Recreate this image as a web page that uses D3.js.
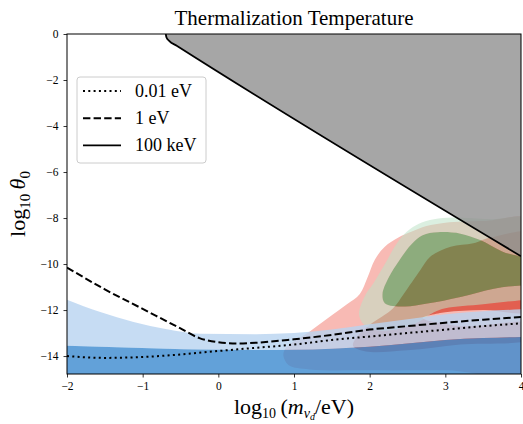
<!DOCTYPE html>
<html>
<head>
    <title>Thermalization Temperature</title>
    <script src="https://cdnjs.cloudflare.com/ajax/libs/d3/7.8.5/d3.min.js"></script>
    <style>
        body {
            margin: 0;
            background-color: white;
        }
        svg text {
            font-family: "Liberation Serif", "DejaVu Serif", serif;
        }
    </style>
</head>
<body>
    <div id="chart"></div>

    <script>
        // Axis ticks
        const xTicks = [-2, -1, 0, 1, 2, 3, 4];
        const yTicks = [0, -2, -4, -6, -8, -10, -12, -14];

        // Thermalization lines (log10 m, log10 theta)
        const line001eV = [[-2, -14.0], [-1.5, -14.08], [-1, -14.04], [-0.5, -13.93], [0, -13.78], [0.5, -13.64],
            [1, -13.5], [1.5, -13.3], [2, -13.15], [2.5, -13.0], [3, -12.85], [3.5, -12.7], [4, -12.58]];
        const line1eV = [[-2, -10.15], [-1.5, -11.1], [-1, -11.95], [-0.5, -12.8], [-0.25, -13.22], [0, -13.4],
            [0.25, -13.45], [0.5, -13.42], [1, -13.27], [1.5, -13.08], [2, -12.85], [2.5, -12.7], [3, -12.55],
            [3.5, -12.42], [4, -12.3]];
        const line100keV = [[-0.695, 0], [-0.685, -0.15], [-0.65, -0.3], [-0.55, -0.51], [4, -9.66]];

        // Blue bounds: shared x grid, outer (light) and inner (dark) upper edges
        const blueX = [-2, -1.56, -1.12, -0.68, -0.24, 0.5, 1, 1.5, 2, 2.5, 3, 3.5, 4];
        const blueOuterTop = [-11.55, -12.09, -12.52, -12.84, -13.03, -13.05, -13.0, -12.85, -12.62, -12.4, -12.18, -12.05, -11.97];
        const blueInnerTop = [-13.55, -13.6, -13.64, -13.68, -13.72, -13.74, -13.73, -13.68, -13.6, -13.45, -13.3, -13.22, -13.17];

        // Red contours (outer, inner)
        const redOuter = [[0.86, -14.0], [0.93, -14.4], [1.2, -14.58], [2, -14.62], [3, -14.62], [4.2, -14.62],
            [4.2, -8.15], [3.5, -8.13], [3.0, -8.2], [2.75, -8.35], [2.55, -8.6], [2.38, -8.85], [2.2, -9.25],
            [2.07, -9.8], [1.97, -10.6], [1.87, -11.3], [1.7, -11.75], [1.45, -12.35], [1.2, -12.95],
            [0.98, -13.4], [0.88, -13.7]];
        const redInner = [[2.31, -11.92], [2.45, -11.3], [2.67, -10.26], [2.8, -9.68], [3.07, -9.25], [3.37, -9.1],
            [3.6, -8.85], [4.2, -8.7], [4.2, -11.96], [3.5, -12.0], [3.0, -12.1], [2.7, -12.35], [3.2, -12.7],
            [4.2, -12.6], [4.2, -13.2], [3.2, -13.5], [2.5, -13.75], [1.95, -13.8], [1.78, -13.55],
            [1.85, -13.1], [2.0, -12.65]];

        // Green contours (outer, inner)
        const greenOuter = [[1.86, -12.2], [1.95, -11.3], [2.05, -10.83], [2.23, -9.83], [2.36, -9.1], [2.49, -8.6],
            [2.65, -8.25], [2.85, -8.05], [3.1, -7.98], [3.6, -8.05], [4.2, -8.1], [4.2, -11.5], [4, -11.57],
            [3.5, -11.75], [3.0, -11.92], [2.85, -12.1], [2.6, -12.6], [2.2, -12.9], [1.95, -12.7]];
        const greenInner = [[2.2, -11.7], [2.17, -11.3], [2.25, -10.6], [2.4, -9.8], [2.55, -9.15], [2.7, -8.75],
            [2.9, -8.62], [3.2, -8.68], [3.46, -8.96], [3.75, -9.45], [4.2, -10.0], [4.2, -10.95], [4, -10.93],
            [3.64, -11.07], [3.2, -11.43], [2.76, -11.72], [2.45, -11.85]];

        const legendLabels = ['0.01 eV', '1 eV', '100 keV'];
        const legendDash = ['2,3.3', '7.4,3.2', null];

        const margin = {top: 34, right: 2, bottom: 50, left: 67};
        const width = 523 - margin.left - margin.right;
        const height = 424 - margin.top - margin.bottom;

        const root = d3.select('#chart')
            .append('svg')
                .attr('width', 523)
                .attr('height', 424);

        const svg = root.append('g')
            .attr('transform', `translate(${margin.left},${margin.top})`);

        const x = d3.scaleLinear().domain([-2, 4]).range([0, width]);
        const y = d3.scaleLinear().domain([-14.78, 0]).range([height, 0]);

        svg.append('clipPath').attr('id', 'plotClip')
            .append('rect').attr('width', width).attr('height', height);

        const plot = svg.append('g').attr('clip-path', 'url(#plotClip)');

        const blob = d3.line()
            .x(d => x(d[0]))
            .y(d => y(d[1]))
            .curve(d3.curveCatmullRomClosed.alpha(0.5));

        // Red contours
        plot.append('path').attr('d', blob(redOuter)).attr('fill', 'rgb(248,186,180)');
        plot.append('path').attr('d', blob(redInner)).attr('fill', 'rgb(226,95,80)');

        // Green contours (outer band excludes inner)
        plot.append('path')
            .attr('d', blob(greenOuter) + blob(greenInner))
            .attr('fill-rule', 'evenodd')
            .attr('fill', 'rgb(190,226,198)')
            .attr('fill-opacity', 0.55);
        plot.append('path')
            .attr('d', blob(greenInner))
            .attr('fill', 'rgb(52,160,80)')
            .attr('fill-opacity', 0.55);

        // Blue bounds
        const blueBand = d3.area()
            .x(d => x(d.x))
            .y0(d => y(d.lo))
            .y1(d => y(d.hi))
            .curve(d3.curveMonotoneX);

        const blueOuter = blueX.map((v, i) => ({x: v, lo: blueInnerTop[i], hi: blueOuterTop[i]}));
        const blueInner = blueX.map((v, i) => ({x: v, lo: -14.78, hi: blueInnerTop[i]}));

        plot.append('path').attr('d', blueBand(blueOuter))
            .attr('fill', 'rgb(184,211,240)').attr('fill-opacity', 0.8);
        plot.append('path').attr('d', blueBand(blueInner))
            .attr('fill', 'rgb(59,138,208)').attr('fill-opacity', 0.8);

        // Gray excluded region above 100 keV line
        const grayArea = d3.area()
            .x(d => x(d[0]))
            .y0(y(0))
            .y1(d => y(d[1]))
            .curve(d3.curveMonotoneX);

        plot.append('path').attr('d', grayArea(line100keV))
            .attr('fill', 'rgb(139,139,139)').attr('fill-opacity', 0.77);

        const curve = d3.line()
            .x(d => x(d[0]))
            .y(d => y(d[1]))
            .curve(d3.curveMonotoneX);

        plot.append('path').datum(line100keV)
            .attr('d', curve).attr('fill', 'none')
            .attr('stroke', 'black').attr('stroke-width', 1.8);
        plot.append('path').datum(line1eV)
            .attr('d', curve).attr('fill', 'none')
            .attr('stroke', 'black').attr('stroke-width', 2)
            .attr('stroke-dasharray', legendDash[1]);
        plot.append('path').datum(line001eV)
            .attr('d', curve).attr('fill', 'none')
            .attr('stroke', 'black').attr('stroke-width', 2)
            .attr('stroke-dasharray', legendDash[0]);

        // Axes
        const xAxis = svg.append('g')
            .attr('transform', `translate(0,${height})`)
            .call(d3.axisBottom(x).tickValues(xTicks).tickSize(3.5).tickPadding(4)
                .tickFormat(d => d < 0 ? '\u2212' + Math.abs(d) : d));
        const yAxis = svg.append('g')
            .call(d3.axisLeft(y).tickValues(yTicks).tickSize(3.5).tickPadding(5)
                .tickFormat(d => d < 0 ? '\u2212' + Math.abs(d) : d));

        [xAxis, yAxis].forEach(a => {
            a.select('.domain').remove();
            a.selectAll('text').style('font-size', '11.5px').attr('fill', 'black');
            a.selectAll('line').attr('stroke', 'black').attr('stroke-width', 0.8);
        });

        svg.append('rect')
            .attr('width', width).attr('height', height)
            .attr('fill', 'none').attr('stroke', 'black').attr('stroke-width', 1);

        // Title
        svg.append('text')
            .attr('x', width / 2).attr('y', -9)
            .attr('text-anchor', 'middle')
            .style('font-size', '21px')
            .text('Thermalization Temperature');

        // X label
        const xl = svg.append('text')
            .attr('x', width / 2).attr('y', height + 40)
            .attr('text-anchor', 'middle')
            .style('font-size', '22px');
        xl.append('tspan').text('log');
        xl.append('tspan').attr('dy', 4).style('font-size', '14px').text('10');
        xl.append('tspan').attr('dy', -4).text('\u2009(');
        xl.append('tspan').style('font-style', 'italic').text('m');
        xl.append('tspan').attr('dy', 4).style('font-size', '14px').style('font-style', 'italic').text('\u03bd');
        xl.append('tspan').attr('dy', 2).style('font-size', '10px').style('font-style', 'italic').text('d');
        xl.append('tspan').attr('dy', -6).text('/eV)');

        // Y label
        const yl = svg.append('text')
            .attr('transform', `translate(${-42},${height / 2}) rotate(-90)`)
            .attr('text-anchor', 'middle')
            .style('font-size', '22px');
        yl.append('tspan').text('log');
        yl.append('tspan').attr('dy', 5).style('font-size', '15px').text('10');
        yl.append('tspan').attr('dy', -5).text('\u2009');
        yl.append('tspan').style('font-style', 'italic').text('\u03b8');
        yl.append('tspan').attr('dy', 5).style('font-size', '15px').text('0');

        // Legend
        const legend = svg.append('g').attr('transform', `translate(${10},${43})`);
        legend.append('rect')
            .attr('width', 129).attr('height', 86).attr('rx', 3)
            .attr('fill', 'white').attr('fill-opacity', 0.8)
            .attr('stroke', '#cccccc').attr('stroke-width', 1);

        legendLabels.forEach((label, i) => {
            const ly = 14 + i * 27.2;
            legend.append('line')
                .attr('x1', 6).attr('x2', 44).attr('y1', ly).attr('y2', ly)
                .attr('stroke', 'black')
                .attr('stroke-width', i === 2 ? 1.8 : 2)
                .attr('stroke-dasharray', legendDash[i]);
            legend.append('text')
                .attr('x', 58).attr('y', ly + 6)
                .style('font-size', '18px')
                .text(label);
        });
    </script>
</body>
</html>
